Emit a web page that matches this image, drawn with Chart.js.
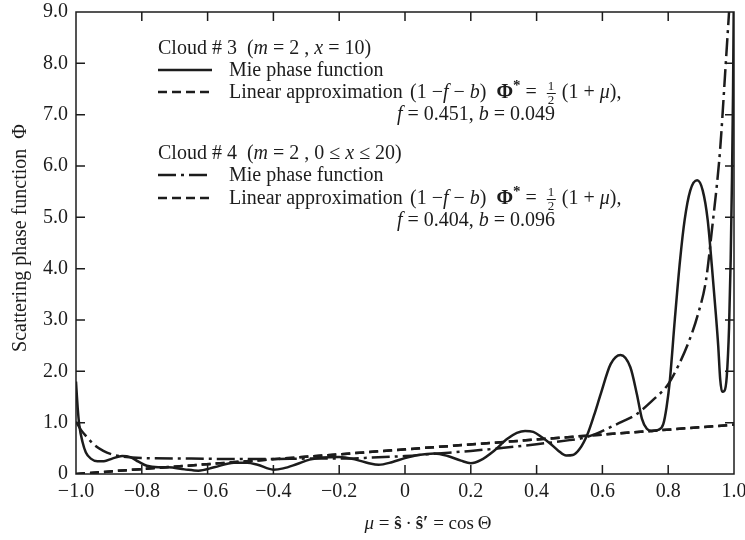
<!DOCTYPE html>
<html lang="en">
<head>
<meta charset="UTF-8">
<title>Scattering phase function</title>
<script src="https://cdn.jsdelivr.net/npm/chart.js@4.4.0/dist/chart.umd.min.js"></script>
<style>
  body { margin: 0; background: #fff; }
  #wrap { width: 745px; height: 540px; }
</style>
</head>
<body>
<div id="wrap"><canvas id="phaseChart" width="745" height="540"></canvas></div>
<script>
// Cloud #3 (m = 2, x = 10), Mie phase function - solid
const mu3 = [-1.0, -0.995, -0.99, -0.98, -0.97, -0.955, -0.935, -0.915, -0.89, -0.86, -0.835, -0.81, -0.785,
  -0.75, -0.72, -0.67, -0.628, -0.58, -0.52, -0.48, -0.448, -0.4, -0.37, -0.33, -0.29, -0.25, -0.2, -0.15,
  -0.11, -0.08, -0.04, 0.0, 0.04, 0.09, 0.13, 0.17, 0.2, 0.23, 0.27, 0.31, 0.34, 0.365, 0.39, 0.415, 0.44,
  0.465, 0.49, 0.51, 0.53, 0.555, 0.575, 0.595, 0.625, 0.655, 0.685, 0.705, 0.72, 0.735, 0.75, 0.77, 0.785,
  0.795, 0.805, 0.82, 0.836, 0.85, 0.867, 0.888, 0.905, 0.92, 0.933, 0.945, 0.952, 0.958, 0.964, 0.971,
  0.978, 0.985, 0.99, 0.994, 0.997, 1.0];
const phi3 = [1.80, 1.30, 0.95, 0.62, 0.42, 0.30, 0.25, 0.25, 0.30, 0.35, 0.33, 0.24, 0.16,
  0.13, 0.13, 0.09, 0.065, 0.13, 0.22, 0.22, 0.18, 0.085, 0.11, 0.19, 0.28, 0.32, 0.33, 0.28,
  0.21, 0.18, 0.23, 0.31, 0.37, 0.40, 0.35, 0.26, 0.21, 0.27, 0.45, 0.68, 0.80, 0.84, 0.82, 0.72, 0.60,
  0.46, 0.36, 0.37, 0.48, 0.78, 1.15, 1.56, 2.14, 2.32, 2.08, 1.55, 1.08, 0.88, 0.84, 0.86, 0.97,
  1.30, 1.82, 3.0, 4.16, 4.95, 5.52, 5.72, 5.52, 4.95, 4.03, 3.1, 2.5, 1.85, 1.6, 1.62,
  1.9, 2.86, 4.2, 5.8, 7.4, 9.8];

// Cloud #4 (m = 2, 0 <= x <= 20), Mie phase function - dash-dot
const mu4 = [-1.0, -0.985, -0.968, -0.945, -0.917, -0.89, -0.86, -0.8, -0.65, -0.5, -0.4, -0.3, -0.2, -0.1,
  0.0, 0.1, 0.2, 0.3, 0.4, 0.5, 0.54, 0.58, 0.62, 0.66, 0.70, 0.75, 0.8, 0.83, 0.861, 0.89, 0.915, 0.933,
  0.955, 0.961, 0.973, 0.985, 1.0];
const phi4 = [1.02, 0.86, 0.73, 0.57, 0.45, 0.38, 0.34, 0.31, 0.30, 0.29, 0.29, 0.30, 0.30, 0.32,
  0.35, 0.40, 0.45, 0.51, 0.58, 0.66, 0.70, 0.78, 0.90, 1.02, 1.15, 1.42, 1.75, 2.1, 2.55, 3.1, 3.78, 4.76,
  6.1, 6.6, 7.8, 9.0, 10.5];

// Linear approximations (1 - f - b) Phi* - dashed
const muLin = [-1.0, 1.0];
const phiLin3 = [0.0, 0.96];
const phiLin4 = [0.0, 0.96];

const xTicks = [-1.0, -0.8, -0.6, -0.4, -0.2, 0, 0.2, 0.4, 0.6, 0.8, 1.0];
const xTickLabels = ['\u22121.0', '\u22120.8', '\u2212 0.6', '\u22120.4', '\u22120.2', '0', '0.2', '0.4', '0.6', '0.8', '1.0'];
const yTicks = [0, 1, 2, 3, 4, 5, 6, 7, 8, 9];
const yTickLabels = ['0', '1.0', '2.0', '3.0', '4.0', '5.0', '6.0', '7.0', '8.0', '9.0'];

const ink = '#1c1c1c';
const serif = '"Liberation Serif", "DejaVu Serif", serif';
const dashPat = [9, 5];
const dashDotPat = [18, 5, 3, 5];

function pts(xs, ys) {
  return xs.map((v, i) => ({ x: v, y: ys[i] }));
}

function drawRich(ctx, x, y, parts) {
  parts.forEach(p => {
    ctx.font = p.f;
    ctx.fillText(p.t, x, y + (p.dy || 0));
    x += ctx.measureText(p.t).width;
  });
  return x;
}

function half(ctx, x, y) {
  // stacked 1/2
  ctx.font = '13px ' + serif;
  ctx.fillText('1', x + 1, y - 8);
  ctx.fillText('2', x + 1, y + 6);
  ctx.fillRect(x, y - 5, 9, 1);
  return x + 10;
}

const N = '20px ' + serif;
const I = 'italic 20px ' + serif;
const B = 'bold 20px ' + serif;

function formula(ctx, x, y) {
  x = drawRich(ctx, x, y, [
    { t: '(1 \u2212', f: N }, { t: 'f', f: I }, { t: ' \u2212 ', f: N }, { t: 'b', f: I },
    { t: ')  ', f: N }, { t: '\u03A6', f: B }, { t: '*', f: 'bold 15px ' + serif, dy: -8 }, { t: ' =  ', f: N }
  ]);
  x = half(ctx, x, y);
  drawRich(ctx, x, y, [{ t: ' (1 + ', f: N }, { t: '\u03BC', f: I }, { t: '),', f: N }]);
}

function sample(ctx, y, dash) {
  ctx.beginPath();
  ctx.setLineDash(dash);
  ctx.moveTo(158, y);
  ctx.lineTo(212, y);
  ctx.stroke();
  ctx.setLineDash([]);
}

const decor = {
  id: 'decor',
  afterDraw(chart) {
    const { ctx, chartArea: a, scales: { x, y } } = chart;
    ctx.save();
    ctx.strokeStyle = ink;
    ctx.fillStyle = ink;

    // frame with inward ticks on all sides
    ctx.lineWidth = 1.5;
    ctx.strokeRect(a.left, a.top, a.right - a.left, a.bottom - a.top);
    ctx.beginPath();
    xTicks.slice(1, -1).forEach(v => {
      const px = x.getPixelForValue(v);
      ctx.moveTo(px, a.bottom); ctx.lineTo(px, a.bottom - 9);
      ctx.moveTo(px, a.top); ctx.lineTo(px, a.top + 9);
    });
    yTicks.slice(1, -1).forEach(v => {
      const py = y.getPixelForValue(v);
      ctx.moveTo(a.left, py); ctx.lineTo(a.left + 9, py);
      ctx.moveTo(a.right, py); ctx.lineTo(a.right - 9, py);
    });
    ctx.stroke();

    // legend block
    ctx.textBaseline = 'alphabetic';
    ctx.textAlign = 'left';
    ctx.lineWidth = 2.5;
    drawRich(ctx, 158, 54, [
      { t: 'Cloud # 3  (', f: N }, { t: 'm', f: I }, { t: ' = 2 , ', f: N }, { t: 'x', f: I }, { t: ' = 10)', f: N }
    ]);
    sample(ctx, 70, []);
    drawRich(ctx, 229, 76, [{ t: 'Mie phase function', f: N }]);
    sample(ctx, 92, dashPat);
    drawRich(ctx, 229, 98, [{ t: 'Linear approximation', f: N }]);
    formula(ctx, 410, 98);
    drawRich(ctx, 397, 120, [
      { t: 'f', f: I }, { t: ' = 0.451, ', f: N }, { t: 'b', f: I }, { t: ' = 0.049', f: N }
    ]);

    drawRich(ctx, 158, 159, [
      { t: 'Cloud # 4  (', f: N }, { t: 'm', f: I }, { t: ' = 2 , 0 \u2264 ', f: N }, { t: 'x', f: I },
      { t: ' \u2264 20)', f: N }
    ]);
    sample(ctx, 175, dashDotPat);
    drawRich(ctx, 229, 181, [{ t: 'Mie phase function', f: N }]);
    sample(ctx, 198, dashPat);
    drawRich(ctx, 229, 204, [{ t: 'Linear approximation', f: N }]);
    formula(ctx, 410, 204);
    drawRich(ctx, 397, 226, [
      { t: 'f', f: I }, { t: ' = 0.404, ', f: N }, { t: 'b', f: I }, { t: ' = 0.096', f: N }
    ]);

    // axis titles
    const tx = [
      { t: '\u03BC', f: 'italic 19px ' + serif }, { t: ' = ', f: '19px ' + serif },
      { t: '\u015D', f: 'bold 19px ' + serif }, { t: '\u2009\u00B7\u2009', f: '19px ' + serif },
      { t: '\u015D\u2032', f: 'bold 19px ' + serif }, { t: ' = cos\u2009\u0398', f: '19px ' + serif }
    ];
    let w = 0;
    tx.forEach(p => { ctx.font = p.f; w += ctx.measureText(p.t).width; });
    drawRich(ctx, 428 - w / 2, 529, tx);

    ctx.translate(21, 238);
    ctx.rotate(-Math.PI / 2);
    ctx.textAlign = 'center';
    ctx.textBaseline = 'middle';
    ctx.font = '20px ' + serif;
    ctx.fillText('Scattering phase function  \u03A6', 0, 0);
    ctx.restore();
  }
};

new Chart(document.getElementById('phaseChart'), {
  type: 'line',
  data: {
    datasets: [
      { label: 'Cloud 3 linear', data: pts(muLin, phiLin3), borderDash: dashPat },
      { label: 'Cloud 4 linear', data: pts(muLin, phiLin4), borderDash: dashPat },
      { label: 'Cloud 4 Mie', data: pts(mu4, phi4), borderDash: dashDotPat, cubicInterpolationMode: 'monotone' },
      { label: 'Cloud 3 Mie', data: pts(mu3, phi3), cubicInterpolationMode: 'monotone' }
    ]
  },
  options: {
    responsive: false,
    animation: false,
    devicePixelRatio: 1,
    layout: { padding: { top: 12, right: 0, bottom: 0, left: 0 } },
    elements: {
      line: { borderColor: ink, borderWidth: 2.5, fill: false },
      point: { radius: 0 }
    },
    plugins: {
      legend: { display: false },
      tooltip: { enabled: false }
    },
    scales: {
      x: {
        type: 'linear',
        min: -1,
        max: 1,
        grid: { display: false, drawTicks: false },
        border: { display: false },
        afterBuildTicks: s => { s.ticks = xTicks.map(v => ({ value: v })); },
        afterFit: s => { s.height = 66; s.paddingLeft = 0; s.paddingRight = 11; },
        ticks: {
          autoSkip: false,
          maxRotation: 0,
          padding: 6,
          color: ink,
          font: { family: serif, size: 20 },
          callback: (v, i) => xTickLabels[i]
        }
      },
      y: {
        type: 'linear',
        min: 0,
        max: 9,
        grid: { display: false, drawTicks: false },
        border: { display: false },
        afterBuildTicks: s => { s.ticks = yTicks.map(v => ({ value: v })); },
        afterFit: s => { s.width = 76; s.paddingTop = 0; s.paddingBottom = 0; },
        ticks: {
          autoSkip: false,
          padding: 8,
          color: ink,
          font: { family: serif, size: 20 },
          callback: (v, i) => yTickLabels[i]
        }
      }
    }
  },
  plugins: [decor]
});
</script>
</body>
</html>
